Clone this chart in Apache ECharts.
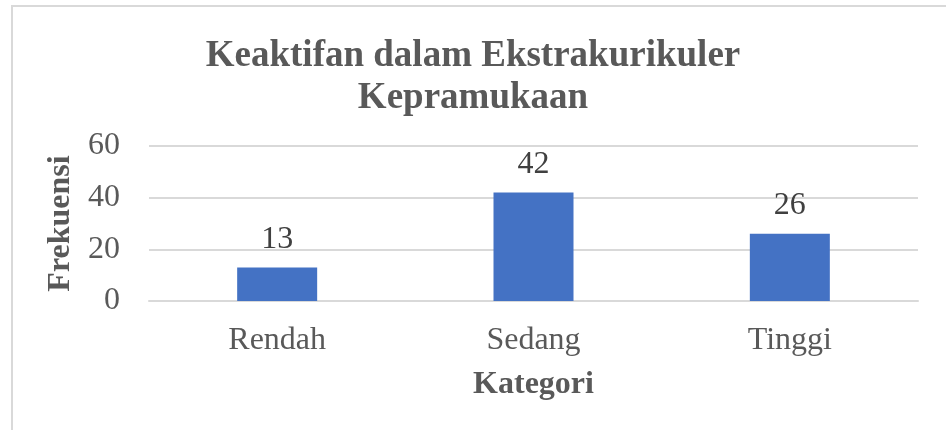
<!DOCTYPE html>
<html>
<head>
    <meta charset="utf-8">
    <title>Keaktifan dalam Ekstrakurikuler Kepramukaan</title>
    <script src="https://cdn.jsdelivr.net/npm/echarts@6/dist/echarts.min.js"></script>
    <style>
        html, body { margin: 0; padding: 0; background: #fff; }
        #chart1 { width: 946px; height: 430px; }
    </style>
</head>
<body>
<div id="chart1"></div>
<script type="text/javascript">
    // data
    let kategori = ['Rendah', 'Sedang', 'Tinggi'];
    let frekuensi = [13, 42, 26];
    let yTicks = [0, 20, 40, 60];

    let font = '"Liberation Serif", "Times New Roman", serif';

    let myChart1 = echarts.init(document.getElementById('chart1'));

    myChart1.setOption({
        animation: false,
        title: {
            text: 'Keaktifan dalam Ekstrakurikuler\nKepramukaan',
            left: 'center',
            top: 30,
            textStyle: {
                fontFamily: font,
                fontSize: 37,
                fontWeight: 'bold',
                color: '#595959',
                lineHeight: 42
            }
        },
        // chart frame (only top/left edge visible in the picture)
        graphic: [
            { type: 'rect', shape: { x: 11, y: 5, width: 940, height: 2 }, style: { fill: '#d9d9d9' } },
            { type: 'rect', shape: { x: 11, y: 5, width: 2, height: 430 }, style: { fill: '#d9d9d9' } }
        ],
        grid: {
            left: 149,
            right: 28,
            top: 146,
            bottom: 129
        },
        xAxis: {
            type: 'category',
            data: kategori,
            name: 'Kategori',
            nameLocation: 'middle',
            nameGap: 68,
            nameTextStyle: {
                fontFamily: font, fontSize: 32, fontWeight: 'bold', color: '#595959'
            },
            axisLine: { lineStyle: { color: '#d9d9d9', width: 2 } },
            axisTick: { show: false },
            axisLabel: {
                fontFamily: font, fontSize: 32, color: '#595959', margin: 24
            }
        },
        yAxis: {
            type: 'value',
            min: yTicks[0],
            max: yTicks[yTicks.length - 1],
            interval: 20,
            name: 'Frekuensi',
            nameLocation: 'middle',
            nameGap: 66,
            nameTextStyle: {
                fontFamily: font, fontSize: 32, fontWeight: 'bold', color: '#595959'
            },
            axisLine: { show: false },
            axisTick: { show: false },
            splitLine: { lineStyle: { color: '#d9d9d9', width: 2 } },
            axisLabel: {
                fontFamily: font, fontSize: 32, color: '#595959', margin: 29
            }
        },
        series: [{
            name: 'Frekuensi',
            type: 'bar',
            data: frekuensi,
            barWidth: 80,
            itemStyle: { color: '#4472C4' },
            label: {
                show: true,
                position: 'top',
                distance: 12,
                fontFamily: font,
                fontSize: 32,
                color: '#404040'
            }
        }]
    });
</script>
</body>
</html>
